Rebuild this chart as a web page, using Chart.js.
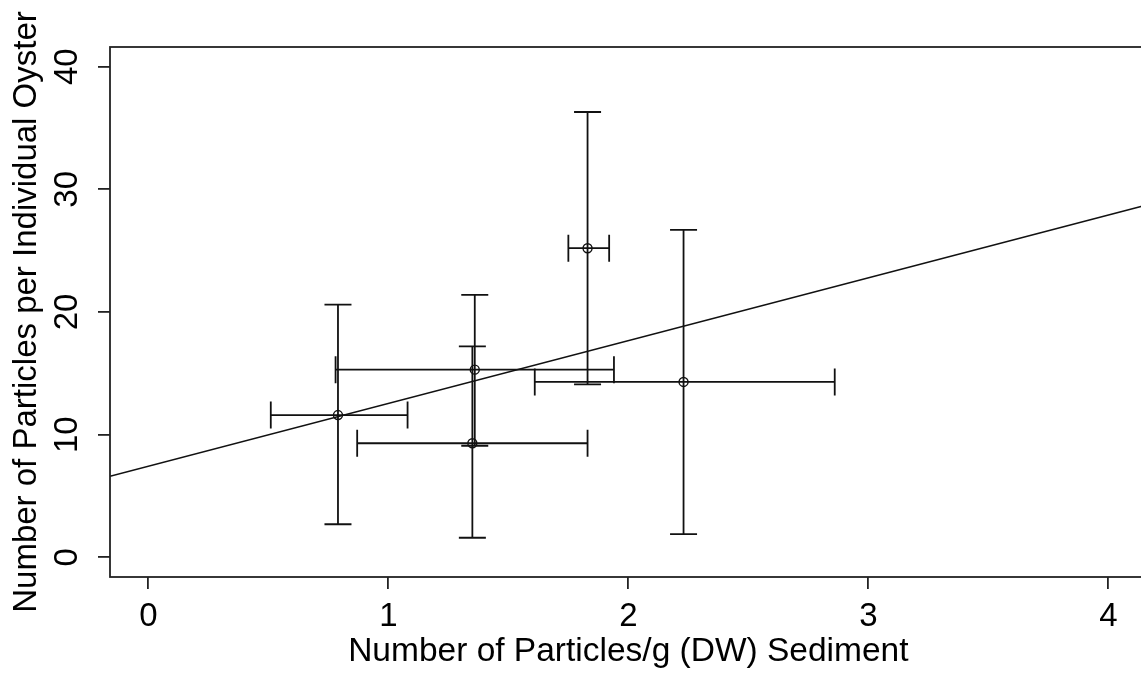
<!DOCTYPE html>
<html>
<head>
<meta charset="utf-8">
<script src="https://cdn.jsdelivr.net/npm/chart.js@4"></script>
<style>
    html, body { margin: 0; padding: 0; background: #fff; overflow: hidden; }
    #chart { display: block; }
</style>
</head>
<body>
<canvas id="chart" width="1162" height="673"></canvas>
<script>
// sediment (x) and oyster (y) means with their error ranges
const sedMean = [0.79, 1.36, 1.35, 1.83, 2.23];
const sedLo   = [0.51, 0.78, 0.87, 1.75, 1.61];
const sedHi   = [1.08, 1.94, 1.83, 1.92, 2.86];
const oysMean = [11.6, 15.3, 9.3, 25.2, 14.3];
const oysLo   = [2.7, 9.1, 1.6, 14.1, 1.9];
const oysHi   = [20.6, 21.4, 17.2, 36.3, 26.7];

// fitted line y = a + b x
const fitIntercept = 7.42;
const fitSlope = 5.12;

// R pads the 0..4 / 0..40 limits by 4%; the right box edge falls off the page
const xRange = [-0.16, 4.16];
const yRange = [-1.6, 41.6];
const xTicks = [0, 1, 2, 3, 4];
const yTicks = [0, 10, 20, 30, 40];

const ink = '#111';
const font = { family: "'Liberation Sans', Arial, sans-serif", size: 33 };

const gap = { x: null, y: null };
const vBars = [], hBars = [];
sedMean.forEach((x, i) => {
    vBars.push({ x: x, y: oysLo[i] }, { x: x, y: oysHi[i] }, gap);
    hBars.push({ x: sedLo[i], y: oysMean[i] }, { x: sedHi[i], y: oysMean[i] }, gap);
});
const points = sedMean.map((x, i) => ({ x: x, y: oysMean[i] }));
const fitLine = xRange.map(x => ({ x: x, y: fitIntercept + fitSlope * x }));

// box round the plot region
const boxPlugin = {
    id: 'box',
    afterDraw(chart) {
        const { ctx, chartArea: a } = chart;
        ctx.save();
        ctx.strokeStyle = '#222';
        ctx.lineWidth = 1.8;
        ctx.strokeRect(a.left, a.top, a.right - a.left, a.bottom - a.top);
        ctx.restore();
    }
};

const whisker = (data, rot) => ({
    data: data,
    showLine: true,
    spanGaps: false,
    borderColor: ink,
    borderWidth: 1.8,
    pointStyle: 'line',
    pointRotation: rot,
    pointRadius: 13.5,
    pointBorderColor: ink,
    pointBorderWidth: 1.8,
    pointHoverRadius: 13.5
});

new Chart(document.getElementById('chart'), {
    type: 'scatter',
    data: {
        datasets: [
            whisker(vBars, 0),
            whisker(hBars, 90),
            {
                data: points,
                pointStyle: 'circle',
                pointRadius: 4.5,
                pointBackgroundColor: 'rgba(0,0,0,0)',
                pointBorderColor: ink,
                pointBorderWidth: 1.4
            },
            {
                data: fitLine,
                showLine: true,
                borderColor: ink,
                borderWidth: 1.5,
                pointRadius: 0
            }
        ]
    },
    options: {
        responsive: false,
        animation: false,
        events: [],
        layout: { padding: { top: 47, right: 0, bottom: 0, left: 0 } },
        plugins: { legend: { display: false }, tooltip: { enabled: false } },
        scales: {
            x: {
                type: 'linear',
                min: xRange[0],
                max: xRange[1],
                afterBuildTicks: s => { s.ticks = xTicks.map(v => ({ value: v })); },
                afterFit: s => { s.height = 96; },
                border: { display: false },
                grid: { drawOnChartArea: false, drawTicks: true, tickLength: 12, color: '#222', lineWidth: 1.8 },
                ticks: { includeBounds: false, padding: 8, color: '#000', font: font },
                title: {
                    display: true,
                    text: 'Number of Particles/g (DW) Sediment',
                    color: '#000',
                    font: { family: font.family, size: 33.5 },
                    padding: { top: 0, bottom: 1 }
                }
            },
            y: {
                type: 'linear',
                min: yRange[0],
                max: yRange[1],
                afterBuildTicks: s => { s.ticks = yTicks.map(v => ({ value: v })); },
                afterFit: s => { s.width = 110; },
                border: { display: false },
                grid: { drawOnChartArea: false, drawTicks: true, tickLength: 12, color: '#222', lineWidth: 1.8 },
                ticks: {
                    includeBounds: false,
                    minRotation: 90,
                    maxRotation: 90,
                    crossAlign: 'center',
                    padding: 12,
                    color: '#000',
                    font: font
                },
                title: {
                    display: true,
                    text: 'Number of Particles per Individual Oyster',
                    color: '#000',
                    font: font,
                    padding: { top: 7, bottom: 0 }
                }
            }
        }
    },
    plugins: [boxPlugin]
});
</script>
</body>
</html>
